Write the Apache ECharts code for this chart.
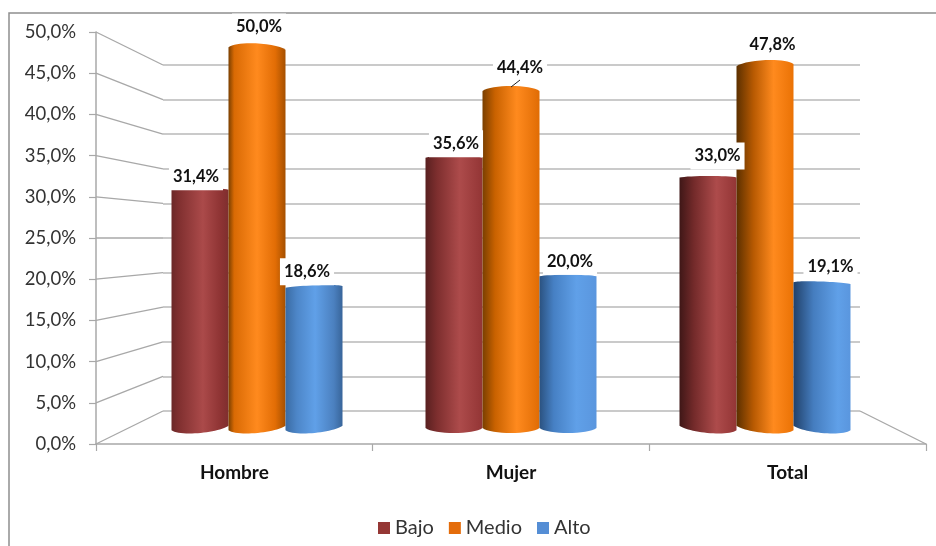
<!DOCTYPE html>
<html>
<head>
<meta charset="utf-8">
<style>html,body{margin:0;padding:0;background:#fff}#c{width:936px;height:546px}</style>
<script src="https://cdn.jsdelivr.net/npm/echarts@6/dist/echarts.min.js"></script>
</head>
<body>
<div id="c"></div>
<script>
const categories = ['Hombre', 'Mujer', 'Total'];
const seriesNames = ['Bajo', 'Medio', 'Alto'];
const bajo = [31.4, 35.6, 33.0];
const medio = [50.0, 44.4, 47.8];
const alto = [18.6, 20.0, 19.1];
const axisTicks = [0, 5, 10, 15, 20, 25, 30, 35, 40, 45, 50];
const values = [bajo, medio, alto];

const legendColors = ['#953735', '#e46c0a', '#558ed5'];
// Horizontal shading of each cylinder: [series][category] -> gradient stops
const shades = [
  [
    [[0, '#6b2828'], [0.12, '#7f2f2f'], [0.55, '#ab4a4a'], [0.85, '#8f3434'], [1, '#7f2e2e']],
    [[0, '#592020'], [0.2, '#7d2e2e'], [0.6, '#ad4b4b'], [1, '#933535']],
    [[0, '#3f1717'], [0.25, '#732a2a'], [0.65, '#ad4b4b'], [1, '#933535']]
  ],
  [
    [[0, '#7a3f00'], [0.1, '#d96a04'], [0.5, '#ff8a1e'], [0.82, '#e26d05'], [1, '#a55000']],
    [[0, '#7a3f00'], [0.22, '#c96200'], [0.6, '#ff8a1e'], [1, '#e06c04']],
    [[0, '#5c3000'], [0.3, '#b85a02'], [0.65, '#ff8a1e'], [1, '#ea7205']]
  ],
  [
    [[0, '#3a6ba3'], [0.2, '#4d86c8'], [0.52, '#60a0e8'], [0.85, '#4b80bf'], [1, '#38659a']],
    [[0, '#2b5280'], [0.25, '#4680c4'], [0.65, '#60a0e8'], [1, '#5a96de']],
    [[0, '#21416a'], [0.35, '#457dbf'], [0.78, '#60a0e8'], [1, '#5a96de']]
  ]
];
// Where each value label sits relative to the top of its bar: [series][category] -> [dx, dy]
const labelNudge = [
  [[-4, -13], [2, -14], [9.5, -21.5]],
  [[2, -21.5], [9, -23], [7.5, -21]],
  [[-7, -15], [2, -15], [8.5, -16]]
];
const tiltDirection = [1, 0, -1];
const barShare = 0.2244;
const pct = v => v.toFixed(1).replace('.', ',') + '%';

const chart = echarts.init(document.getElementById('c'), null, { renderer: 'canvas' });

function cylinderPath(xL, xR, yTop, yBase, v, dir) {
  const w = xR - xL;
  const tiltTop = dir * (32 - v) * 0.14 / 2;
  const tiltBase = dir * 32 * 0.14 / 2;
  const dome = Math.min(5, 1.5 + Math.max(0, v - 33) * 0.4) / 0.75;
  const domeB = 5 / 0.75;
  const tl = yTop + tiltTop, tr = yTop - tiltTop, bl = yBase + tiltBase, br = yBase - tiltBase;
  return 'M' + xL + ' ' + tl +
    'C' + (xL + w * 0.15) + ' ' + (tl - dome) + ' ' + (xR - w * 0.15) + ' ' + (tr - dome) + ' ' + xR + ' ' + tr +
    'L' + xR + ' ' + br +
    'C' + (xR - w * 0.15) + ' ' + (br + domeB) + ' ' + (xL + w * 0.15) + ' ' + (bl + domeB) + ' ' + xL + ' ' + bl + 'Z';
}

function barSeries(si) {
  return {
    type: 'custom',
    name: seriesNames[si],
    xAxisIndex: 2,
    yAxisIndex: 2,
    z: 5,
    clip: false,
    silent: true,
    itemStyle: { color: legendColors[si] },
    encode: { x: 0, y: 1 },
    data: values[si].map((v, i) => [i, v]),
    renderItem(params, api) {
      const ci = api.value(0), v = api.value(1);
      const top = api.coord([ci, v]);
      const base = api.coord([ci, 0]);
      const w = api.size([1, 0])[0] * barShare;
      const cx = top[0] + (si - 1) * w;
      return {
        type: 'path',
        shape: { pathData: cylinderPath(cx - w / 2, cx + w / 2, top[1], base[1], v, tiltDirection[ci]) },
        style: { fill: new echarts.graphic.LinearGradient(0, 0, 1, 0, shades[si][ci].map(s => ({ offset: s[0], color: s[1] }))) }
      };
    }
  };
}

const labelData = [];
values.forEach((arr, si) => arr.forEach((v, ci) => labelData.push([ci, v, si])));

const labelSeries = {
  type: 'custom',
  name: 'labels',
  xAxisIndex: 2,
  yAxisIndex: 2,
  z: 10,
  clip: false,
  silent: true,
  encode: { x: 0, y: 1 },
  data: labelData,
  renderItem(params, api) {
    const ci = api.value(0), v = api.value(1), si = api.value(2);
    const top = api.coord([ci, v]);
    const w = api.size([1, 0])[0] * barShare;
    const cx = top[0] + (si - 1) * w;
    const n = labelNudge[si][ci];
    const children = [{
      type: 'text',
      style: {
        text: pct(v), x: cx + n[0], y: top[1] + n[1], align: 'center', verticalAlign: 'middle',
        fill: '#111', font: 'bold 16.5px Lato', backgroundColor: '#fff', padding: [5, 4, 5, 4]
      }
    }];
    if (n[1] < -22.5) {
      children.push({
        type: 'line',
        shape: { x1: cx, y1: top[1] - 4, x2: cx + n[0], y2: top[1] + n[1] + 12 },
        style: { stroke: '#222', lineWidth: 1 }
      });
    }
    return { type: 'group', children };
  }
};

// Receding lines joining the front axes to the back wall
const depthSeries = {
  type: 'custom',
  name: 'depth',
  xAxisIndex: 0,
  yAxisIndex: 0,
  z: 2,
  clip: false,
  silent: true,
  encode: { x: 0, y: 1 },
  data: axisTicks.map(v => [0, v]).concat([[2, 0]]),
  renderItem(params, api) {
    const ci = api.value(0), v = api.value(1);
    const p = api.coord([ci, v]);
    const half = api.size([1, 0])[0] / 2;
    const right = ci === 2;
    const back = chart.convertToPixel({ gridIndex: 1 }, [right ? 1 : 0, v]);
    return {
      type: 'line',
      shape: { x1: right ? p[0] + half : p[0] - half, y1: p[1], x2: back[0], y2: back[1] },
      style: { stroke: '#a8a8a8', lineWidth: 1.3 }
    };
  }
};

const hiddenAxis = { show: false, axisLine: { show: false }, axisTick: { show: false }, axisLabel: { show: false }, splitLine: { show: false } };

chart.setOption({
  animation: false,
  backgroundColor: '#fff',
  textStyle: { fontFamily: 'Lato' },
  graphic: [{
    type: 'rect', silent: true, z: -1,
    shape: { x: 9, y: 13, width: 1200, height: 1200 },
    style: { fill: 'none', stroke: '#8e8e8e', lineWidth: 1.5 }
  }],
  legend: {
    data: seriesNames,
    left: 373,
    top: 513,
    icon: 'rect',
    itemWidth: 12,
    itemHeight: 12,
    itemGap: 15,
    selectedMode: false,
    textStyle: { fontFamily: 'Lato', fontSize: 20, color: '#333' }
  },
  grid: [
    { left: 96, right: 10, top: 32, bottom: 102 },
    { left: 163, right: 76, top: 65, bottom: 135 },
    { left: 130, right: 44, top: 48.5, bottom: 118 }
  ],
  xAxis: [
    {
      type: 'category', gridIndex: 0, data: categories,
      axisLine: { lineStyle: { color: '#a8a8a8', width: 1.5 } },
      axisTick: { show: true, length: 7, alignWithLabel: false, lineStyle: { color: '#a8a8a8', width: 1.2 } },
      axisLabel: { margin: 19, fontFamily: 'Lato', fontWeight: 'bold', fontSize: 19, color: '#111', interval: 0 },
      splitLine: { show: false }
    },
    Object.assign({ type: 'value', gridIndex: 1, min: 0, max: 1 }, hiddenAxis),
    Object.assign({ type: 'category', gridIndex: 2, data: categories }, hiddenAxis)
  ],
  yAxis: [
    {
      type: 'value', gridIndex: 0, min: 0, max: 50, interval: 5,
      axisLine: { show: true, lineStyle: { color: '#a8a8a8', width: 1.5 } },
      axisTick: { show: true, length: 7, lineStyle: { color: '#a8a8a8', width: 1.2 } },
      axisLabel: { margin: 20, fontFamily: 'Lato', fontSize: 18.5, color: '#333', formatter: v => pct(v) },
      splitLine: { show: false }
    },
    {
      type: 'value', gridIndex: 1, min: 0, max: 50, interval: 5,
      axisLine: { show: false }, axisTick: { show: false }, axisLabel: { show: false },
      splitLine: { show: true, lineStyle: { color: '#b8b8b8', width: 1.5 } }
    },
    Object.assign({ type: 'value', gridIndex: 2, min: 0, max: 50 }, hiddenAxis)
  ],
  series: [depthSeries, barSeries(0), barSeries(1), barSeries(2), labelSeries]
});
</script>
</body>
</html>
